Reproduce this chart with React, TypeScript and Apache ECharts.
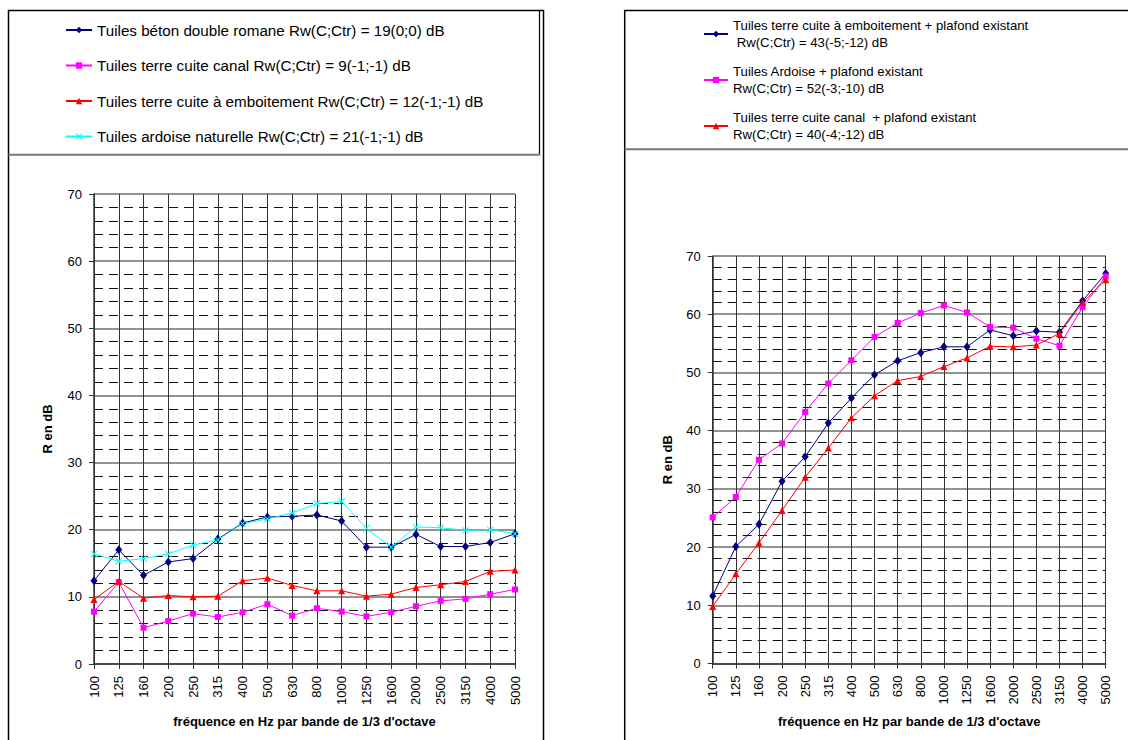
import React, { useEffect, useRef } from "react";
import * as echarts from "echarts";

// ---------- data ----------
const frequencies = [
  "100", "125", "160", "200", "250", "315", "400", "500", "630",
  "800", "1000", "1250", "1600", "2000", "2500", "3150", "4000", "5000",
];
const yMin = 0;
const yMax = 70;
const yStep = 10;

// Left chart (toiture seule)
const leftNames = [
  "Tuiles béton double romane Rw(C;Ctr) = 19(0;0) dB",
  "Tuiles terre cuite canal Rw(C;Ctr) = 9(-1;-1) dB",
  "Tuiles terre cuite à emboitement Rw(C;Ctr) = 12(-1;-1) dB",
  "Tuiles ardoise naturelle Rw(C;Ctr) = 21(-1;-1) dB",
];
const betonDoubleRomane = [12.4, 17.0, 13.2, 15.2, 15.7, 18.6, 21.0, 21.9, 22.0, 22.2, 21.3, 17.4, 17.4, 19.3, 17.5, 17.5, 18.1, 19.4];
const terreCuiteCanal = [7.8, 12.2, 5.4, 6.4, 7.5, 7.0, 7.7, 8.9, 7.2, 8.3, 7.8, 7.1, 7.7, 8.6, 9.4, 9.7, 10.4, 11.1];
const terreCuiteEmboitement = [9.6, 12.3, 9.8, 10.2, 10.0, 10.1, 12.4, 12.8, 11.7, 10.9, 10.9, 10.1, 10.4, 11.4, 11.8, 12.3, 13.8, 14.0];
const ardoiseNaturelle = [16.4, 15.3, 15.7, 16.4, 17.7, 18.5, 20.9, 21.6, 22.5, 23.9, 24.2, 20.2, 17.4, 20.4, 20.3, 19.9, 20.0, 19.4];

// Right chart (toiture + plafond existant)
const rightNames = [
  "Tuiles terre cuite à emboitement + plafond existant",
  "Tuiles Ardoise + plafond existant",
  "Tuiles terre cuite canal  + plafond existant",
];
const rightRw = [
  " Rw(C;Ctr) = 43(-5;-12) dB",
  "Rw(C;Ctr) = 52(-3;-10) dB",
  "Rw(C;Ctr) = 40(-4;-12) dB",
];
const emboitementPlafond = [11.6, 20.1, 23.9, 31.3, 35.5, 41.3, 45.6, 49.6, 52.0, 53.4, 54.4, 54.4, 57.3, 56.3, 57.1, 56.9, 62.3, 67.0];
const ardoisePlafond = [25.1, 28.6, 35.0, 37.8, 43.2, 48.1, 52.1, 56.1, 58.5, 60.2, 61.5, 60.3, 57.8, 57.7, 55.8, 54.6, 61.2, 66.5];
const canalPlafond = [9.8, 15.4, 20.7, 26.3, 32.0, 37.0, 42.2, 46.0, 48.6, 49.3, 51.0, 52.5, 54.5, 54.4, 54.7, 56.7, 62.0, 65.9];

const xTitle = "fréquence en Hz par bande de 1/3 d'octave";
const yTitle = "R en dB";

// ---------- styles ----------
const FONT = "'Liberation Sans', Arial, sans-serif";
const NAVY = "#000080";
const MAGENTA = "#FF00FF";
const RED = "#FF0000";
const CYAN = "#00FFFF";
const STAR = "path://M1,0 L5,4 L9,0 L10,1 L6,5 L10,9 L9,10 L5,6 L1,10 L0,9 L4,5 L0,1 Z";

function lineSeries(name: string, data: number[], color: string, symbol: string, size: number | number[], idx: number) {
  return {
    type: "line",
    name,
    data,
    xAxisIndex: idx,
    yAxisIndex: idx,
    symbol,
    symbolSize: size,
    showSymbol: true,
    lineStyle: { color, width: 1 },
    itemStyle: { color },
    emphasis: { disabled: true },
  };
}

function makeXAxis(idx: number) {
  return {
    type: "category",
    gridIndex: idx,
    data: frequencies,
    boundaryGap: false,
    name: xTitle,
    nameLocation: "middle",
    nameGap: 51,
    nameTextStyle: { fontFamily: FONT, fontSize: 13, fontWeight: "bold", color: "#000" },
    axisLine: { show: true, lineStyle: { color: "#333", width: 1.5 } },
    axisTick: { show: true, interval: 0, length: 5, lineStyle: { color: "#333" } },
    axisLabel: { interval: 0, rotate: 90, margin: 12, fontFamily: FONT, fontSize: 13, color: "#000" },
    splitLine: { show: true, interval: 0, lineStyle: { color: "#333", width: 1 } },
  };
}

function makeYAxis(idx: number, gap: number) {
  return {
    type: "value",
    gridIndex: idx,
    min: yMin,
    max: yMax,
    interval: yStep,
    name: yTitle,
    nameLocation: "middle",
    nameGap: gap,
    nameTextStyle: { fontFamily: FONT, fontSize: 13, fontWeight: "bold", color: "#000" },
    axisLine: { show: true, lineStyle: { color: "#333", width: 1.5 } },
    axisTick: { show: true, length: 5, lineStyle: { color: "#333" } },
    axisLabel: { margin: 12, fontFamily: FONT, fontSize: 13, color: "#000" },
    splitLine: { show: true, lineStyle: { color: "#6e6e6e", width: 1.5 } },
    minorTick: { show: false, splitNumber: 5 },
    minorSplitLine: { show: true, lineStyle: { color: "#111", width: 1, type: [9, 6] } },
  };
}

export default function App() {
  const ref = useRef<HTMLDivElement>(null);

  useEffect(() => {
    if (!ref.current) return;
    const chart = echarts.init(ref.current, undefined, { renderer: "svg" });

    const option = {
      animation: false,
      backgroundColor: "#fff",
      textStyle: { fontFamily: FONT },
      grid: [
        { left: 94, top: 194, width: 421, height: 470, containLabel: false },
        { left: 712.7, top: 256, width: 393, height: 407.5, containLabel: false },
      ],
      xAxis: [makeXAxis(0), makeXAxis(1)],
      yAxis: [makeYAxis(0, 40), makeYAxis(1, 39)],
      legend: [
        {
          orient: "vertical",
          left: 65,
          top: 21,
          padding: 0,
          itemWidth: 26,
          itemHeight: 8,
          itemGap: 17.5,
          selectedMode: false,
          data: leftNames,
          textStyle: { fontFamily: FONT, fontSize: 15.2, lineHeight: 18, color: "#000" },
        },
        {
          orient: "vertical",
          left: 703,
          top: 8.5,
          padding: 0,
          itemWidth: 24,
          itemHeight: 8,
          itemGap: -5,
          selectedMode: false,
          data: rightNames,
          formatter: (name: string) => {
            const i = rightNames.indexOf(name);
            return name + "\n" + (i >= 0 ? rightRw[i] : "");
          },
          textStyle: { fontFamily: FONT, fontSize: 13.2, lineHeight: 17, color: "#000", padding: [17, 0, 0, 0] },
        },
      ],
      series: [
        lineSeries(leftNames[0], betonDoubleRomane, NAVY, "diamond", [7, 9], 0),
        lineSeries(leftNames[1], terreCuiteCanal, MAGENTA, "rect", 6, 0),
        lineSeries(leftNames[2], terreCuiteEmboitement, RED, "triangle", 7, 0),
        lineSeries(leftNames[3], ardoiseNaturelle, CYAN, STAR, 7, 0),
        lineSeries(rightNames[0], emboitementPlafond, NAVY, "diamond", [7, 9], 1),
        lineSeries(rightNames[1], ardoisePlafond, MAGENTA, "rect", 6, 1),
        lineSeries(rightNames[2], canalPlafond, RED, "triangle", 7, 1),
      ],
      graphic: [
        {
          type: "polyline",
          silent: true,
          shape: { points: [[8.5, 740], [8.5, 10.5], [543.5, 10.5], [543.5, 740]] },
          style: { stroke: "#000", lineWidth: 1.5, fill: null },
        },
        {
          type: "line",
          silent: true,
          shape: { x1: 539.5, y1: 10.5, x2: 539.5, y2: 155 },
          style: { stroke: "#000", lineWidth: 1.2 },
        },
        {
          type: "line",
          silent: true,
          shape: { x1: 8.5, y1: 154.7, x2: 540, y2: 154.7 },
          style: { stroke: "#777", lineWidth: 2 },
        },
        {
          type: "polyline",
          silent: true,
          shape: { points: [[624.7, 740], [624.7, 10.5], [1128, 10.5]] },
          style: { stroke: "#000", lineWidth: 1.5, fill: null },
        },
        {
          type: "line",
          silent: true,
          shape: { x1: 624.7, y1: 149.3, x2: 1128, y2: 149.3 },
          style: { stroke: "#777", lineWidth: 2 },
        },
      ],
    };

    chart.setOption(option as any);
    return () => chart.dispose();
  }, []);

  return (
    <div
      ref={ref}
      style={{ position: "absolute", left: 0, top: 0, width: 1128, height: 740, background: "#fff" }}
    />
  );
}
